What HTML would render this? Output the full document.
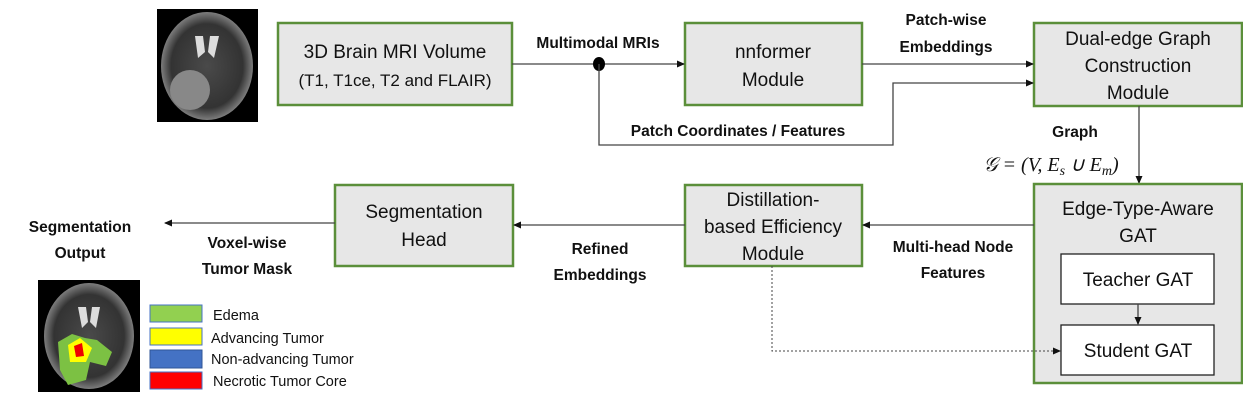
<!DOCTYPE html>
<html><head><meta charset="utf-8"><style>
html,body{margin:0;padding:0;background:#fff;}
svg{display:block;font-family:"Liberation Sans",sans-serif;}
.bx{fill:#e7e7e7;stroke:#5b8f3a;stroke-width:2.5;}
.wb{fill:#fff;stroke:#222;stroke-width:1.3;}
.t{font-size:19px;fill:#111;text-anchor:middle;}
.b{font-size:15.5px;font-weight:bold;fill:#111;text-anchor:middle;}
.l{stroke:#444;stroke-width:1.3;fill:none;}
.lg{font-size:14.5px;fill:#111;}
</style></head><body>
<svg width="1243" height="402" viewBox="0 0 1243 402">
<defs>
<marker id="a" markerWidth="8" markerHeight="8" refX="7" refY="4" orient="auto" markerUnits="userSpaceOnUse"><path d="M0,0.5 L8,4 L0,7.5z" fill="#111"/></marker>
<radialGradient id="br" cx="50%" cy="50%" r="52%"><stop offset="0" stop-color="#4a4a4a"/><stop offset="0.75" stop-color="#333"/><stop offset="1" stop-color="#8a8a8a"/></radialGradient>
</defs>
<!-- top brain -->
<rect x="157" y="9" width="101" height="113" fill="#000"/>
<ellipse cx="207" cy="66" rx="46" ry="54" fill="url(#br)"/>
<path d="M195,36 L203,36 L205,52 L198,58 Z M210,36 L219,36 L214,58 L208,52 Z" fill="#ddd"/>
<ellipse cx="190" cy="90" rx="20" ry="20" fill="#888"/>
<!-- top boxes -->
<rect class="bx" x="278" y="23" width="234" height="82"/>
<text class="t" x="395" y="58">3D Brain MRI Volume</text>
<text class="t" x="395" y="86" style="font-size:17px">(T1, T1ce, T2 and FLAIR)</text>
<rect class="bx" x="685" y="23" width="177" height="82"/>
<text class="t" x="773" y="58">nnformer</text>
<text class="t" x="773" y="86">Module</text>
<rect class="bx" x="1034" y="23" width="208" height="83"/>
<text class="t" x="1138" y="45">Dual-edge Graph</text>
<text class="t" x="1138" y="72">Construction</text>
<text class="t" x="1138" y="99">Module</text>
<!-- top connectors -->
<line class="l" x1="512" y1="64" x2="684" y2="64" marker-end="url(#a)"/>
<ellipse cx="599" cy="64" rx="6" ry="7" fill="#000"/>
<text class="b" x="598" y="48">Multimodal MRIs</text>
<line class="l" x1="862" y1="64" x2="1033" y2="64" marker-end="url(#a)"/>
<text class="b" x="946" y="25">Patch-wise</text>
<text class="b" x="946" y="52">Embeddings</text>
<polyline class="l" points="599,64 599,145 893,145 893,83 1033,83" marker-end="url(#a)"/>
<text class="b" x="738" y="136">Patch Coordinates / Features</text>
<line class="l" x1="1139" y1="106" x2="1139" y2="183" marker-end="url(#a)"/>
<text class="b" x="1075" y="137">Graph</text>
<text x="1051" y="171" style="font-family:'Liberation Serif',serif;font-size:20px;font-style:italic;text-anchor:middle;fill:#111">𝒢 = (V, E<tspan font-size="14" dy="4">s</tspan><tspan dy="-4"> ∪ E</tspan><tspan font-size="14" dy="4">m</tspan><tspan dy="-4">)</tspan></text>
<!-- bottom boxes -->
<rect class="bx" x="1034" y="184" width="208" height="199"/>
<text class="t" x="1138" y="215">Edge-Type-Aware</text>
<text class="t" x="1138" y="242">GAT</text>
<rect class="wb" x="1061" y="254" width="153" height="50"/>
<text class="t" x="1138" y="286">Teacher GAT</text>
<rect class="wb" x="1061" y="325" width="153" height="50"/>
<text class="t" x="1138" y="357">Student GAT</text>
<line class="l" x1="1138" y1="304" x2="1138" y2="324" marker-end="url(#a)"/>
<rect class="bx" x="685" y="185" width="177" height="81"/>
<text class="t" x="773" y="206">Distillation-</text>
<text class="t" x="773" y="233">based Efficiency</text>
<text class="t" x="773" y="260">Module</text>
<rect class="bx" x="335" y="185" width="178" height="81"/>
<text class="t" x="424" y="218">Segmentation</text>
<text class="t" x="424" y="246">Head</text>
<line class="l" x1="1034" y1="225" x2="863" y2="225" marker-end="url(#a)"/>
<text class="b" x="953" y="252">Multi-head Node</text>
<text class="b" x="953" y="278">Features</text>
<line class="l" x1="685" y1="225" x2="514" y2="225" marker-end="url(#a)"/>
<text class="b" x="600" y="254">Refined</text>
<text class="b" x="600" y="280">Embeddings</text>
<line class="l" x1="335" y1="223" x2="165" y2="223" marker-end="url(#a)"/>
<text class="b" x="247" y="248">Voxel-wise</text>
<text class="b" x="247" y="274">Tumor Mask</text>
<text class="b" x="80" y="232">Segmentation</text>
<text class="b" x="80" y="258">Output</text>
<polyline points="772,266 772,351 1060,351" fill="none" stroke="#444" stroke-width="1" stroke-dasharray="2,2" marker-end="url(#a)"/>
<!-- bottom brain -->
<rect x="38" y="280" width="102" height="112" fill="#000"/>
<ellipse cx="89" cy="336" rx="45" ry="53" fill="url(#br)"/>
<path d="M78,307 L86,307 L88,322 L82,328 Z M92,307 L100,307 L96,328 L90,322 Z" fill="#ddd"/>
<path d="M58,342 L72,334 L85,338 L97,340 L112,352 L106,366 L90,362 L86,380 L68,385 L60,370 Z" fill="#7cc143"/>
<path d="M68,345 L80,338 L92,348 L86,362 L70,362 Z" fill="#ff0"/>
<path d="M74,346 L82,343 L84,356 L76,357 Z" fill="#e00"/>
<!-- legend -->
<rect x="150" y="305" width="52" height="17" fill="#92d050" stroke="#4472c4"/>
<rect x="150" y="328" width="52" height="17" fill="#ffff00" stroke="#4472c4"/>
<rect x="150" y="350" width="52" height="18" fill="#4472c4" stroke="#2f5597"/>
<rect x="150" y="372" width="52" height="17" fill="#ff0000" stroke="#4472c4"/>
<text class="lg" x="213" y="320">Edema</text>
<text class="lg" x="211" y="343">Advancing Tumor</text>
<text class="lg" x="211" y="364">Non-advancing Tumor</text>
<text class="lg" x="213" y="386">Necrotic Tumor Core</text>
</svg>
</body></html>
